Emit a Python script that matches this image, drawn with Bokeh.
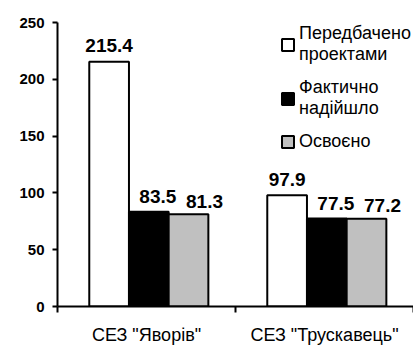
from bokeh.plotting import figure
from bokeh.models import (Range1d, FixedTicker, Legend, LegendItem, ColumnDataSource)
from bokeh.transform import dodge
from bokeh.core.properties import value
from bokeh.embed import file_html
from bokeh.resources import INLINE

categories = ['СЕЗ "Яворів"', 'СЕЗ "Трускавець"']
planned = [215.4, 97.9]
received = [83.5, 77.5]
used = [81.3, 77.2]
series_names = ["Передбачено\nпроектами", "Фактично\nнадійшло", "Освоєно"]
y_ticks = [0, 50, 100, 150, 200, 250]

SANS = "Liberation Sans"

n = len(categories)
centers = [i + 0.5 for i in range(n)]

p = figure(x_range=Range1d(0, n), y_range=Range1d(0, 250),
           width=413, height=347, output_backend="svg", toolbar_location=None,
           min_border_left=57, min_border_right=0,
           min_border_top=22, min_border_bottom=37)
p.grid.visible = False
p.outline_line_color = None
p.background_fill_color = "white"
p.border_fill_color = "white"

# y axis
ya = p.yaxis[0]
ya.ticker = FixedTicker(ticks=y_ticks)
ya.axis_line_width = 2
ya.axis_line_color = "black"
ya.major_tick_line_width = 2
ya.major_tick_out = 5
ya.major_tick_in = 0
ya.minor_tick_line_color = None
ya.major_label_text_font = SANS
ya.major_label_text_font_style = "bold"
ya.major_label_text_font_size = "15px"
ya.major_label_text_color = "black"
ya.major_label_standoff = 8

# x axis: labels at category centres, ticks at category boundaries
xa = p.xaxis[0]
xa.ticker = FixedTicker(ticks=centers, minor_ticks=list(range(n + 1)))
xa.major_label_overrides = {c: lab for c, lab in zip(centers, categories)}
xa.axis_line_width = 2
xa.axis_line_color = "black"
xa.major_tick_line_color = None
xa.major_tick_out = 0
xa.major_tick_in = 0
xa.minor_tick_line_color = "black"
xa.minor_tick_line_width = 2
xa.minor_tick_out = 6
xa.minor_tick_in = 0
xa.major_label_text_font = SANS
xa.major_label_text_font_size = "18px"
xa.major_label_text_color = "black"
xa.major_label_standoff = 12

bar_w = 0.223
offsets = [-0.21, 0.013, 0.236]
fills = ["white", "black", "#c0c0c0"]
label_dx = [0, 9, 16]
label_dy = [-16, -15, -13]
series = [planned, received, used]

items = []
for vals, name, off, col, dx, dy in zip(series, series_names, offsets, fills, label_dx, label_dy):
    src = ColumnDataSource(dict(x=centers, val=vals, lab=[f"{v}" for v in vals]))
    r = p.vbar(x=dodge("x", off), top="val", width=bar_w, source=src,
               fill_color=col, line_color="black", line_width=2)
    p.text(x=dodge("x", off), y="val", text="lab", source=src,
           text_font=value(SANS), text_font_style="bold", text_font_size="19px",
           text_align="center", text_baseline="alphabetic", x_offset=dx, y_offset=dy,
           text_color="black")
    items.append(LegendItem(label=name, renderers=[r]))

legend = Legend(items=items, location=(223, 154), padding=0, margin=0, spacing=12,
                glyph_width=15, glyph_height=15, label_standoff=4,
                label_text_font=SANS, label_text_font_size="18px",
                label_text_color="black", border_line_color=None,
                background_fill_alpha=0)
p.add_layout(legend)

open("out.html", "w").write(file_html(p, INLINE))
